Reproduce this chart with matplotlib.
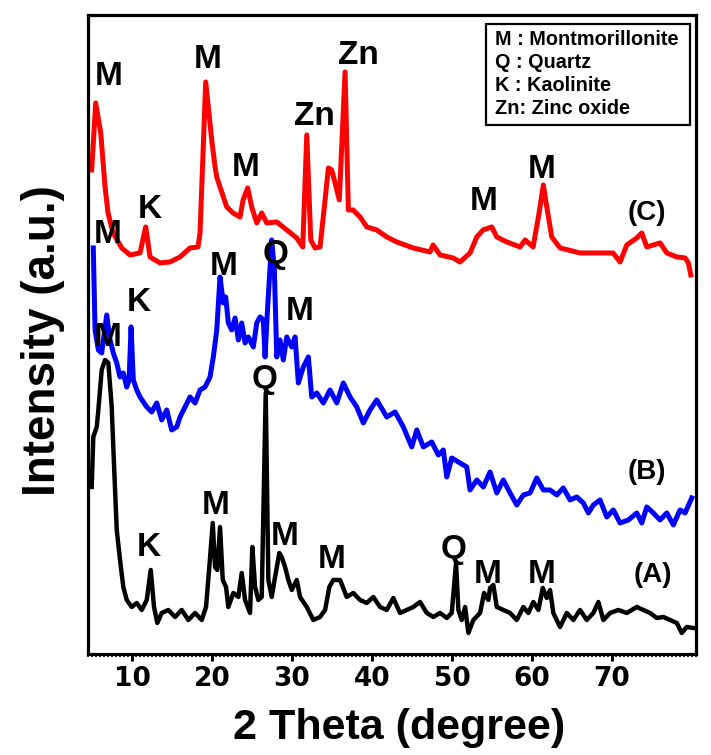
import matplotlib
matplotlib.use("Agg")
import matplotlib.pyplot as plt
from matplotlib.patches import Rectangle
from matplotlib.ticker import MultipleLocator

# (C) sample - red
two_theta_c = [4.96, 5.46, 6.09, 6.63, 7.0, 7.63, 8.71, 9.75, 11.0, 11.71, 12.25, 13.5, 14.75, 16.0, 17.25,
               18.25, 18.5, 19.21, 19.96, 20.38, 20.59, 21.0, 21.84, 22.63, 23.5, 23.88, 24.46, 24.96, 25.59,
               26.21, 26.84, 28.09, 29.34, 30.59, 31.34, 31.84, 32.34, 32.88, 33.5, 34.13, 34.54, 34.96, 35.38,
               35.91, 36.63, 37.04, 37.63, 38.5, 39.34, 40.59, 41.84, 43.09, 45.13, 47.25, 47.63, 48.5, 50.13,
               51.0, 52.25, 53.09, 53.88, 54.96, 55.59, 56.84, 58.5, 59.13, 60.13, 60.88, 61.41, 61.84, 62.46,
               63.5, 66.0, 68.09, 70.13, 71.0, 71.84, 73.09, 73.71, 74.34, 76.0, 76.84, 78.09, 79.13, 79.54, 79.84]
intensity_c = [484, 551, 521, 467, 441, 421, 406, 399, 401, 427, 397, 391, 392, 397, 406,
               407, 421, 572, 514, 487, 477, 467, 447, 441, 437, 454, 466, 447, 431,
               441, 431, 432, 424, 416, 407, 519, 414, 406, 407, 454, 486, 484, 471,
               454, 582, 444, 444, 437, 427, 424, 417, 412, 406, 402, 409, 399, 396,
               392, 401, 417, 424, 427, 417, 412, 407, 414, 407, 441, 469, 447, 417,
               406, 401, 401, 401, 392, 409, 416, 421, 407, 411, 401, 397, 396, 391, 379]

# (B) sample - blue
two_theta_b = [5.16, 5.38, 5.79, 6.21, 6.84, 7.25, 7.66, 8.09, 8.5, 8.91, 9.34, 9.63, 9.88, 10.16, 10.59,
               11.0, 11.84, 12.46, 13.09, 13.71, 14.34, 14.96, 15.59, 16.0, 16.63, 17.25, 17.88, 18.5, 19.13,
               19.75, 20.16, 20.59, 21.0, 21.41, 21.71, 22.04, 22.46, 22.88, 23.29, 23.71, 24.13, 24.54, 25.16,
               25.59, 26.0, 26.41, 26.63, 26.91, 27.46, 27.79, 28.09, 28.5, 28.91, 29.34, 29.96, 30.38, 30.79,
               31.41, 32.04, 32.46, 33.09, 33.91, 34.75, 35.59, 36.41, 37.25, 38.09, 38.91, 39.75, 40.59, 41.84,
               42.88, 43.91, 44.96, 45.59, 46.41, 47.46, 48.29, 48.91, 49.34, 49.96, 51.0, 51.84, 52.25, 53.09,
               53.91, 54.75, 55.59, 56.41, 57.25, 58.09, 58.91, 59.75, 60.59, 61.41, 62.25, 63.09, 63.91, 64.75,
               65.59, 66.41, 67.04, 67.66, 68.5, 69.34, 70.16, 71.0, 72.04, 73.09, 73.71, 74.34, 75.16, 76.0,
               76.84, 77.66, 78.5, 79.13, 79.96]
intensity_b = [406, 324, 304, 301, 339, 314, 301, 291, 277, 281, 267, 274, 327, 274, 264,
               257, 247, 242, 251, 234, 244, 224, 227, 237, 247, 257, 251, 264, 267,
               277, 297, 324, 377, 351, 357, 331, 324, 336, 314, 331, 311, 317, 307,
               331, 337, 334, 297, 341, 414, 384, 297, 314, 294, 317, 307, 317, 271,
               287, 297, 257, 261, 251, 264, 251, 271, 257, 247, 231, 244, 254, 237,
               242, 227, 207, 224, 207, 212, 199, 204, 177, 196, 191, 187, 164, 174,
               167, 182, 161, 174, 161, 149, 159, 161, 176, 164, 164, 159, 166, 154,
               157, 151, 141, 149, 154, 137, 144, 131, 134, 141, 131, 147, 141, 134,
               141, 129, 144, 141, 156]

# (A) sample - black
two_theta_a = [4.96, 5.16, 5.59, 5.79, 6.21, 6.63, 7.04, 7.46, 7.66, 7.88, 8.09, 8.5, 8.91, 9.34, 9.96,
               10.59, 11.21, 11.84, 12.34, 12.75, 13.16, 13.71, 14.54, 15.38, 16.21, 17.04, 17.88, 18.71, 19.25,
               19.66, 20.09, 20.38, 20.66, 21.0, 21.34, 21.75, 22.04, 22.66, 23.29, 23.71, 24.13, 24.75, 25.04,
               25.38, 25.79, 26.21, 26.71, 27.04, 27.46, 27.88, 28.41, 28.71, 29.13, 29.54, 29.96, 30.59, 31.0,
               31.84, 32.66, 33.5, 34.13, 34.66, 35.16, 36.0, 36.84, 37.66, 38.5, 39.34, 40.16, 41.0, 41.84,
               42.66, 43.5, 44.34, 45.16, 46.0, 46.84, 47.66, 48.5, 49.34, 49.96, 50.5, 50.79, 51.21, 51.63,
               52.04, 52.66, 53.5, 54.0, 54.54, 54.75, 55.16, 55.59, 56.41, 57.25, 58.09, 58.91, 59.54, 60.16,
               60.79, 61.34, 61.84, 62.25, 62.66, 63.5, 64.34, 65.16, 66.0, 66.84, 67.66, 68.29, 68.91, 69.75,
               70.79, 71.84, 73.09, 73.91, 74.75, 75.59, 76.41, 77.25, 78.09, 78.71, 79.34, 80.16]
intensity_a = [167, 217, 227, 244, 284, 294, 291, 247, 207, 164, 124, 94, 67, 54, 47,
               51, 44, 54, 84, 47, 31, 41, 44, 37, 44, 34, 41, 34, 47,
               87, 131, 87, 84, 127, 74, 67, 47, 61, 57, 81, 54, 41, 107,
               67, 54, 57, 261, 74, 57, 77, 101, 97, 87, 74, 64, 74, 57,
               47, 34, 37, 44, 67, 74, 74, 57, 61, 54, 51, 57, 47, 44,
               56, 41, 44, 47, 52, 41, 37, 41, 36, 41, 91, 44, 34, 47,
               21, 34, 41, 61, 54, 66, 69, 47, 44, 41, 34, 47, 41, 52,
               44, 66, 56, 64, 41, 27, 41, 34, 44, 34, 41, 52, 34, 41,
               44, 41, 47, 44, 41, 36, 37, 34, 31, 21, 27, 26]

x_ticks = [10, 20, 30, 40, 50, 60, 70]

# peak labels: (text, 2theta, intensity)
peak_labels = [
    ("M", 7.1, 577), ("K", 12.25, 444), ("M", 19.5, 594), ("M", 24.25, 486),
    ("Zn", 32.75, 537), ("Zn", 38.25, 598), ("M", 54.0, 452), ("M", 61.25, 484),
    ("M", 6.9, 419), ("K", 10.9, 351), ("M", 21.4, 387), ("Q", 27.9, 399), ("M", 31.0, 342),
    ("M", 6.9, 316), ("Q", 26.6, 274), ("K", 12.1, 106), ("M", 20.4, 148), ("M", 29.1, 117),
    ("M", 35.0, 94), ("Q", 50.25, 104), ("M", 54.4, 79), ("M", 61.25, 79),
]
sample_labels = [("(C)", 74.4, 441), ("(B)", 74.4, 182), ("(A)", 75.1, 79)]
legend_lines = ["M : Montmorillonite", "Q : Quartz", "K : Kaolinite", "Zn: Zinc oxide"]

plt.rcParams['font.family'] = ['Liberation Sans', 'DejaVu Sans']

fig = plt.figure(figsize=(7.11, 7.55), dpi=100)
ax = fig.add_axes([0.1238, 0.1338, 0.8552, 0.8464])

ax.plot(two_theta_b, intensity_b, color='blue', linewidth=3.6)
ax.plot(two_theta_c, intensity_c, color='red', linewidth=3.6)
ax.plot(two_theta_a, intensity_a, color='black', linewidth=3.2)

ax.set_xlim(4.5, 80.5)
ax.set_ylim(0, 639)

for t, x, y in peak_labels:
    ax.text(x, y, t, fontsize=24, fontweight='bold', ha='center', va='center')
for t, x, y in sample_labels:
    ax.text(x, y, t, fontsize=20, fontweight='bold', ha='center', va='center')

# composition key box
ax.add_patch(Rectangle((0.655, 0.828), 0.335, 0.158, transform=ax.transAxes,
                       fill=False, edgecolor='black', linewidth=1.6, zorder=5))
for i, line in enumerate(legend_lines):
    ax.text(0.670, 0.961 - i * 0.036, line, transform=ax.transAxes, fontsize=14.3,
            fontweight='bold', ha='left', va='center')

ax.set_yticks([])
ax.set_xticks(x_ticks)
ax.xaxis.set_minor_locator(MultipleLocator(0.5))
ax.tick_params(axis='x', which='major', direction='out', length=5, width=2.2, pad=4)
ax.tick_params(axis='x', which='minor', direction='out', length=2.5, width=1.2)
for lab in ax.get_xticklabels():
    lab.set_fontfamily('DejaVu Sans')
    lab.set_fontweight('bold')
    lab.set_fontsize(19)
for sp in ax.spines.values():
    sp.set_linewidth(2.3)

ax.text(0.511, -0.116, "2 Theta (degree)", transform=ax.transAxes, fontsize=31,
        fontweight='bold', ha='center', va='center')
ax.text(-0.074, 0.49, "Intensity (a.u.)", transform=ax.transAxes, fontsize=33,
        fontweight='bold', ha='center', va='center', rotation=90)

fig.savefig('out.png', dpi=100)
